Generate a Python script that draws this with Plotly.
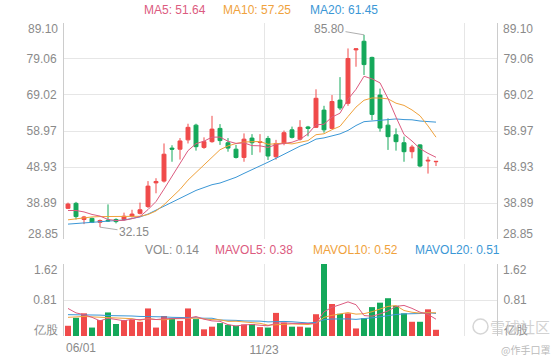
import numpy as np
import pandas as pd
import plotly.graph_objects as go

# ---------------- data (weekly K-line) ----------------
start_date = "2020-06-01"
n_slots = 54
dates = [d.strftime("%m/%d") for d in pd.date_range(start_date, periods=n_slots, freq="7D")]

opens = [37.4, 38.8, 34.3, 34.6, 33.5, 34.1, 34.3, 34.3, 35.2, 36.0,
         37.9, 44.5, 45.0, 54.2, 53.9, 56.5, 60.6, 54.4, 56.0, 59.7,
         55.7, 53.9, 51.6, 57.0, 55.8, 56.9, 51.8, 55.5, 59.3, 56.7,
         60.1, 60.0, 64.8, 59.7, 67.6, 66.7, 81.6, 84.0, 79.5, 69.0,
         60.6, 57.9, 55.7, 53.2, 55.1, 50.6, 50.4]
highs = [39.0, 39.2, 35.3, 34.8, 34.3, 38.5, 34.6, 36.2, 37.0, 39.0,
         45.0, 45.8, 55.5, 55.0, 57.0, 61.0, 61.0, 57.2, 63.2, 60.9,
         57.0, 55.1, 58.3, 58.1, 58.1, 57.6, 56.5, 59.1, 60.2, 62.0,
         60.4, 70.6, 66.0, 69.0, 74.0, 82.0, 81.9, 85.8, 79.7, 70.8,
         62.5, 59.7, 57.4, 55.1, 55.3, 51.8, 50.6]
lows = [37.2, 34.3, 33.0, 33.3, 32.15, 33.6, 33.2, 34.0, 34.8, 35.7,
        37.5, 41.6, 44.6, 50.4, 51.0, 55.5, 53.5, 54.0, 55.7, 55.1,
        53.2, 51.3, 50.4, 52.3, 53.0, 50.9, 51.0, 55.0, 56.9, 56.3,
        57.5, 59.8, 58.5, 59.5, 64.8, 66.0, 76.9, 74.6, 62.0, 58.8,
        53.7, 53.5, 50.4, 51.35, 48.85, 47.1, 49.2]
closes = [38.6, 35.1, 35.0, 33.5, 34.0, 33.9, 33.7, 35.2, 35.8, 37.0,
          43.6, 44.9, 52.5, 53.9, 56.2, 60.0, 54.6, 56.0, 59.5, 56.3,
          54.2, 51.6, 56.7, 55.7, 56.0, 52.0, 55.5, 58.5, 57.2, 60.0,
          59.7, 68.1, 59.3, 67.2, 65.4, 79.2, 81.9, 77.5, 63.6, 59.8,
          57.4, 56.0, 53.2, 54.5, 49.2, 50.8, 50.5]
volumes = [0.23, 0.41, 0.51, 0.19, 0.36, 0.53, 0.27, 0.36, 0.36, 0.32,
           0.62, 0.19, 0.45, 0.40, 0.34, 0.62, 0.38, 0.15, 0.21, 0.29,
           0.25, 0.23, 0.26, 0.27, 0.20, 0.19, 0.52, 0.30, 0.21, 0.21,
           0.19, 0.49, 1.62, 0.72, 0.50, 0.51, 0.17, 0.40, 0.65, 0.75,
           0.85, 0.68, 0.51, 0.32, 0.32, 0.60, 0.14]

# moving-average values at the start of the window (carried over from earlier weeks)
ma5_head = [36.8, 36.8, 36.4, 35.7]
ma10_head = [34.2, 34.5, 34.8, 35.0, 35.1, 35.1, 35.1, 35.1, 35.2]
ma20_head = [33.0, 33.2, 33.4, 33.5, 33.7, 33.8, 34.0, 34.15, 34.5, 35.0,
             35.8, 36.9, 38.0, 39.2, 40.2, 41.4, 42.4, 43.2, 44.0]
mv5_head = [0.62, 0.52, 0.48, 0.42]
mv10_head = [0.42, 0.43, 0.44, 0.43, 0.42, 0.42, 0.41, 0.40, 0.39]
mv20_head = [0.48, 0.48, 0.48, 0.47, 0.47, 0.46, 0.46, 0.45, 0.45, 0.44,
             0.44, 0.43, 0.43, 0.42, 0.42, 0.41, 0.41, 0.40, 0.40]

price_ticks = [28.85, 38.89, 48.93, 58.97, 69.02, 79.06, 89.10]
vol_ticks = [0, 0.81, 1.62]
vol_unit = "亿股"
grid_slots = [0, 25, 50]          # weeks where a vertical grid line starts
watermark_site = "雪球社区"
watermark_user = "@作手口罩"

# ---------------- styling ----------------
RED = "#f04a4a"
GREEN = "#14a85a"
C_MA5 = "#dc5b80"
C_MA10 = "#f0a23c"
C_MA20 = "#3b97d6"
GRID = "#e6e6e6"
AXIS = "#cccccc"
TXT = "#8a8a8a"
FONT = "Liberation Sans, Arial, sans-serif"
CJK = "Noto Sans CJK SC"

W, H = 560, 360
L, R, T, B = 64, 63, 23, 24
plot_h = H - T - B
price_dom = [(336 - 239) / plot_h, 1.0]
vol_dom = [0.0, (336 - 264) / plot_h]


def moving_average(values, window, head):
    out = pd.Series(values, dtype=float).rolling(window).mean().tolist()
    out[:len(head)] = head
    return out


x = np.arange(len(closes))
ma5 = moving_average(closes, 5, ma5_head)
ma10 = moving_average(closes, 10, ma10_head)
ma20 = moving_average(closes, 20, ma20_head)
mv5 = moving_average(volumes, 5, mv5_head)
mv10 = moving_average(volumes, 10, mv10_head)
mv20 = moving_average(volumes, 20, mv20_head)
vol_colors = [RED if c >= o else GREEN for o, c in zip(opens, closes)]

fig = go.Figure()
fig.add_trace(go.Candlestick(
    x=x, open=opens, high=highs, low=lows, close=closes,
    increasing=dict(line=dict(color=RED, width=1), fillcolor=RED),
    decreasing=dict(line=dict(color=GREEN, width=1), fillcolor=GREEN),
    whiskerwidth=0, xaxis="x", yaxis="y", showlegend=False, hoverinfo="skip"))
for vals, col in [(ma20, C_MA20), (ma10, C_MA10), (ma5, C_MA5)]:
    fig.add_trace(go.Scatter(x=x, y=vals, mode="lines", line=dict(color=col, width=1),
                             xaxis="x", yaxis="y", showlegend=False, hoverinfo="skip"))

fig.add_trace(go.Bar(x=x, y=volumes, marker=dict(color=vol_colors, line=dict(width=0)),
                     xaxis="x2", yaxis="y2", showlegend=False, hoverinfo="skip"))
for vals, col in [(mv20, C_MA20), (mv10, C_MA10), (mv5, C_MA5)]:
    fig.add_trace(go.Scatter(x=x, y=vals, mode="lines", line=dict(color=col, width=1),
                             xaxis="x2", yaxis="y2", showlegend=False, hoverinfo="skip"))

xr = [-0.5, -0.5 + (W - L - R) / 8.0]
grid_vals = [g - 0.5 for g in grid_slots]
tick_font = dict(family=FONT, size=12, color=TXT)

common_x = dict(range=xr, tickmode="array", tickvals=grid_vals, showgrid=True,
                gridcolor=GRID, gridwidth=1, zeroline=False, showline=False, ticks="",
                automargin=False)
price_txt = [""] + [f"{v:.2f}" for v in price_ticks[1:-1]] + [""]
vol_txt = [""] + [f"{v:.2f}" for v in vol_ticks[1:-1]] + [""]
common_y = dict(tickmode="array", zeroline=False, showline=True, linecolor=AXIS,
                ticks="", tickfont=tick_font, automargin=False)

fig.update_layout(
    width=W, height=H, margin=dict(l=L, r=R, t=T, b=B, autoexpand=False),
    paper_bgcolor="white", plot_bgcolor="white",
    font=dict(family=FONT, size=12, color=TXT),
    bargap=0.25,
    xaxis=dict(common_x, domain=[0, 1], anchor="y", showticklabels=False,
               rangeslider=dict(visible=False)),
    xaxis2=dict(common_x, domain=[0, 1], anchor="y2", showticklabels=True,
                ticktext=["", dates[grid_slots[1]], ""], tickfont=tick_font,
                ticklabelstandoff=5),
    yaxis=dict(common_y, domain=price_dom, range=[price_ticks[0], price_ticks[-1]], anchor="x",
               tickvals=price_ticks, ticktext=price_txt,
               showgrid=True, gridcolor=GRID, ticklabelstandoff=4),
    yaxis3=dict(common_y, domain=price_dom, range=[price_ticks[0], price_ticks[-1]], anchor="x",
                overlaying="y", side="right", tickvals=price_ticks, ticktext=price_txt,
                showgrid=False, ticklabelstandoff=3),
    yaxis2=dict(common_y, domain=vol_dom, range=[vol_ticks[0], vol_ticks[-1]], anchor="x2",
                tickvals=vol_ticks, ticktext=vol_txt,
                showgrid=True, gridcolor=GRID, ticklabelstandoff=4),
    yaxis4=dict(common_y, domain=vol_dom, range=[vol_ticks[0], vol_ticks[-1]], anchor="x2",
                overlaying="y2", side="right", tickvals=vol_ticks, ticktext=vol_txt,
                showgrid=False, ticklabelstandoff=3),
)
# dummy traces so the right-hand axes are rendered
fig.add_trace(go.Scatter(x=[x[0]], y=[closes[0]], mode="markers", marker=dict(opacity=0),
                         xaxis="x", yaxis="y3", showlegend=False, hoverinfo="skip"))
fig.add_trace(go.Scatter(x=[x[0]], y=[volumes[0]], mode="markers", marker=dict(opacity=0),
                         xaxis="x2", yaxis="y4", showlegend=False, hoverinfo="skip"))

ann = []


def px_y(y):
    return (336 - y) / plot_h


def px_x(xp):
    return (xp - L) / (W - L - R)


def fmt(v):
    return f"{v:.2f}"


# legends
for label, val, col, xp in [("MA5", ma5[-1], C_MA5, 142), ("MA10", ma10[-1], C_MA10, 221),
                            ("MA20", ma20[-1], C_MA20, 308)]:
    ann.append(dict(xref="paper", yref="paper", x=px_x(xp), y=px_y(10.5), xanchor="left",
                    yanchor="middle", showarrow=False, text=f"{label}: {fmt(val)}",
                    font=dict(family=FONT, size=12, color=col)))
for label, val, col, xp in [("VOL", volumes[-1], TXT, 143), ("MAVOL5", mv5[-1], C_MA5, 213),
                            ("MAVOL10", mv10[-1], C_MA10, 311), ("MAVOL20", mv20[-1], C_MA20, 413)]:
    ann.append(dict(xref="paper", yref="paper", x=px_x(xp), y=px_y(250), xanchor="left",
                    yanchor="middle", showarrow=False, text=f"{label}: {fmt(val)}",
                    font=dict(family=FONT, size=12, color=col)))

# extreme axis labels (pulled inside the grid)
for side, xa, xs in [("left", 0, -4), ("right", 1, 4)]:
    anchor = "right" if side == "left" else "left"
    for yref, val, txt, ys in [("y", price_ticks[-1], fmt(price_ticks[-1]), -5.5),
                               ("y", price_ticks[0], fmt(price_ticks[0]), 5),
                               ("y2", vol_ticks[-1], fmt(vol_ticks[-1]), -6),
                               ("y2", vol_ticks[0], vol_unit, 6)]:
        ann.append(dict(xref="paper", yref=yref, x=xa, y=val, xanchor=anchor, yanchor="middle",
                        xshift=xs, yshift=ys, showarrow=False, text=txt, font=tick_font))

# first date label
ann.append(dict(xref="x2", yref="paper", x=grid_vals[0], y=0, xanchor="left", yanchor="middle",
                yshift=-12, showarrow=False, text=dates[grid_slots[0]], font=tick_font))

# max / min markers
i_max = int(np.argmax(highs))
i_min = int(np.argmin(lows))
ann.append(dict(xref="x", yref="y", x=x[i_max], y=highs[i_max], ax=-35, ay=-6,
                text=fmt(highs[i_max]), showarrow=True, arrowhead=0, arrowwidth=0.8,
                arrowcolor="#999999", font=tick_font))
ann.append(dict(xref="x", yref="y", x=x[i_min], y=lows[i_min], ax=34, ay=5,
                text=fmt(lows[i_min]), showarrow=True, arrowhead=0, arrowwidth=0.8,
                arrowcolor="#999999", font=tick_font))

# watermark
ann.append(dict(xref="paper", yref="paper", x=px_x(552), y=px_y(326), xanchor="right",
                yanchor="middle", showarrow=False, text=watermark_site, opacity=0.75,
                font=dict(family=CJK, size=15, color="#c4c4c4")))
ann.append(dict(xref="paper", yref="paper", x=px_x(552), y=px_y(349), xanchor="right",
                yanchor="middle", showarrow=False, text=watermark_user,
                font=dict(family=CJK, size=10, color="#bbbbbb")))
fig.add_shape(type="circle", xref="paper", yref="paper",
              x0=px_x(473), x1=px_x(488), y0=px_y(334), y1=px_y(319),
              line=dict(color="#cccccc", width=1.5), opacity=0.8)

fig.update_layout(annotations=ann)
fig.write_html("out.html")
